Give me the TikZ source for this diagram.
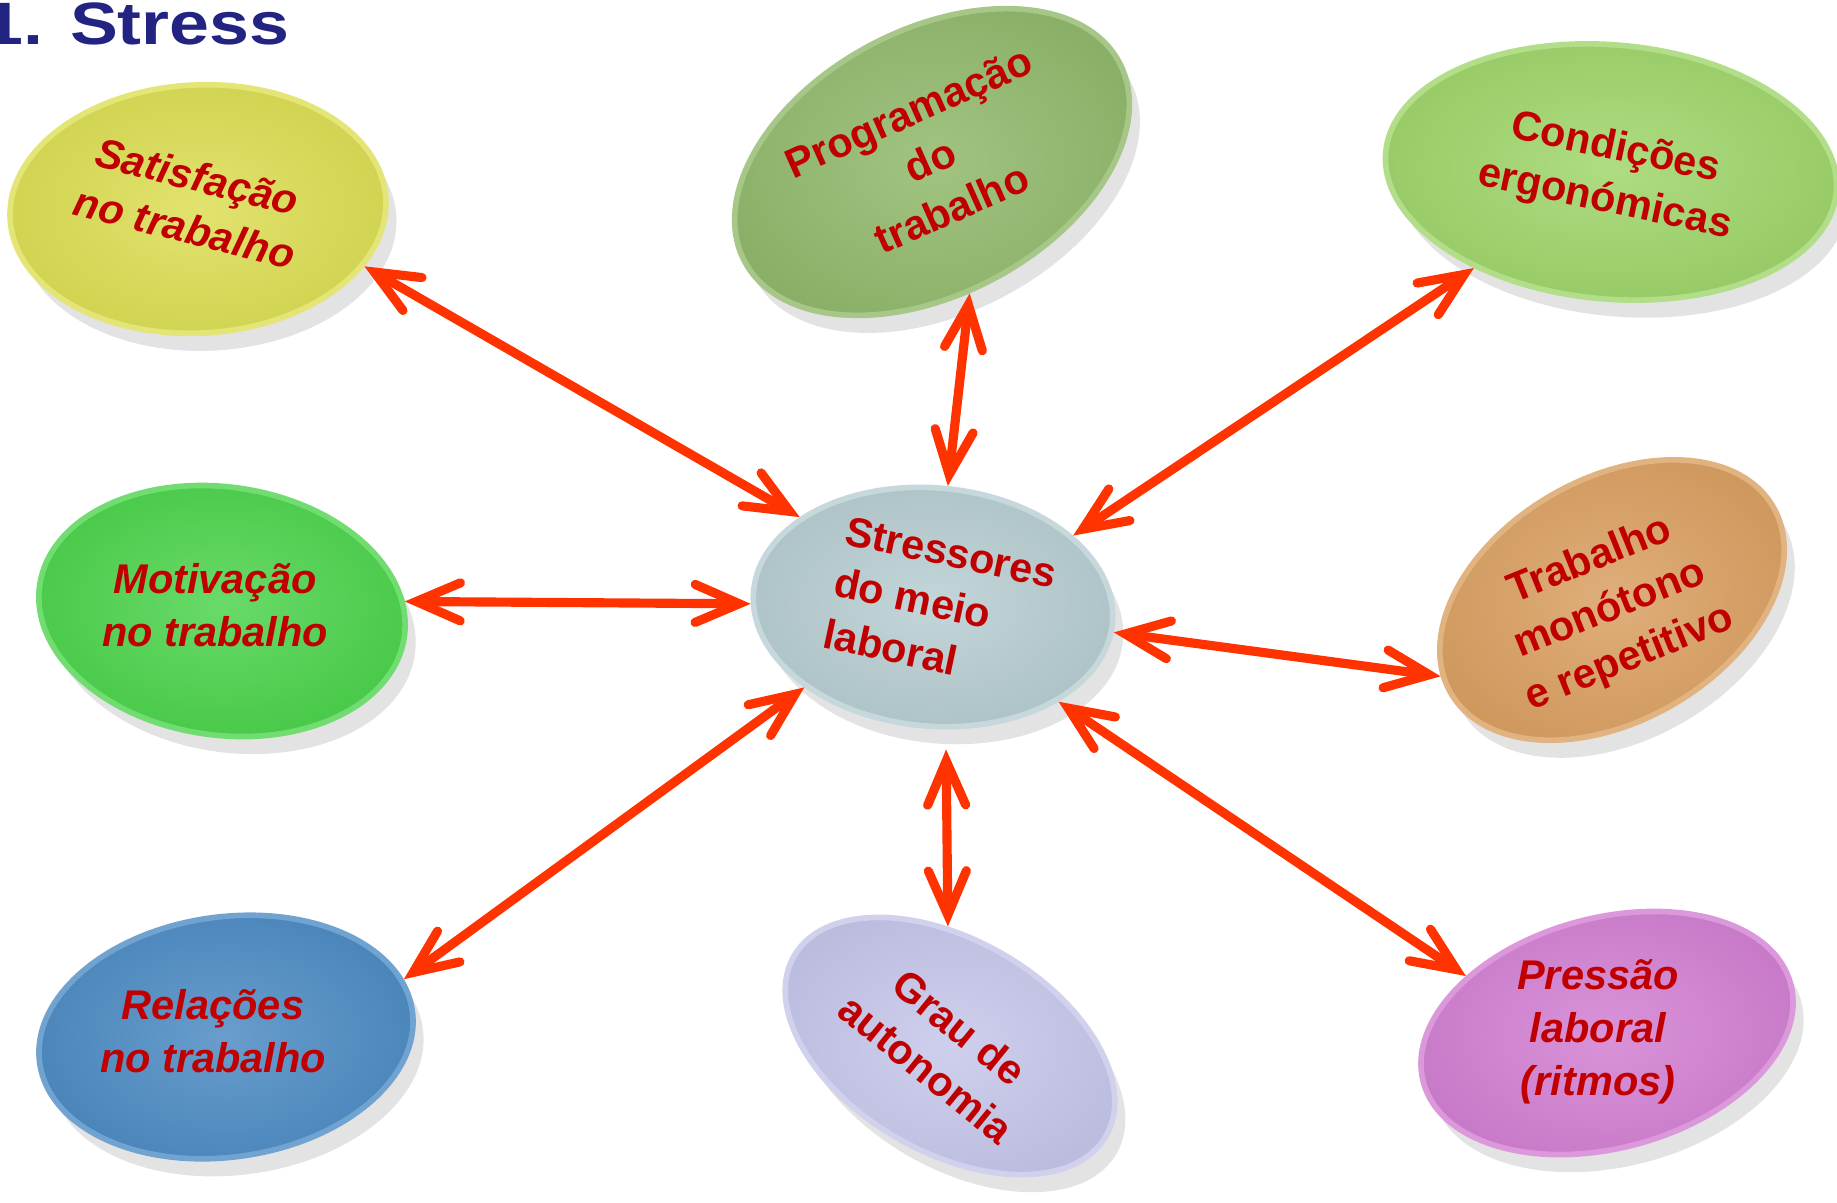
\documentclass[tikz,border=0pt]{standalone}
\usepackage{fontspec}
\setmainfont{Liberation Sans}
\usepackage{graphicx}
\usetikzlibrary{shapes.geometric, arrows.meta, shadows}

\definecolor{titleblue}{RGB}{35,35,130}
\definecolor{textred}{RGB}{192,0,0}
\definecolor{arrowred}{RGB}{255,51,0}
\definecolor{satcol}{RGB}{220,222,85}
\definecolor{progcol}{RGB}{145,185,108}
\definecolor{condcol}{RGB}{160,214,108}
\definecolor{motcol}{RGB}{78,212,78}
\definecolor{stscol}{RGB}{184,206,210}
\definecolor{trabcol}{RGB}{218,160,98}
\definecolor{relcol}{RGB}{78,140,196}
\definecolor{graucol}{RGB}{198,198,234}
\definecolor{prescol}{RGB}{210,128,210}

\tikzset{
  disc/.style={ellipse, inner sep=0pt, draw=#1!80!white, line width=1.6pt,
    inner color=#1!85!white, outer color=#1!95!black,
    drop shadow={shadow xshift=3pt, shadow yshift=-5pt, opacity=.22}},
  disctext/.style={text=textred, inner sep=0pt, align=center,
    font=\fontsize{11.8}{15}\selectfont\bfseries},
  link/.style={arrowred, line width=2.6pt,
    {Straight Barb[length=4.4mm, width=3.8mm, line cap=round, line join=miter]}-{Straight Barb[length=4.4mm, width=3.8mm, line cap=round, line join=miter]}}
}

\begin{document}
\begin{tikzpicture}[x=0.01cm, y=-0.01cm]
  \useasboundingbox (0,0) rectangle (1837,1202);

  % title
  \node[anchor=base west, inner sep=0pt, text=titleblue,
    font=\fontsize{17}{20}\selectfont\bfseries] (title) at (-17,44) {\scalebox{1.2}[1]{1. Stress}};

  % discs
  \node[disc=satcol, minimum width=3.76cm, minimum height=2.48cm, rotate=3] (sat) at (198,209) {};
  \node[disc=progcol, minimum width=4.24cm, minimum height=2.64cm, rotate=28] (prog) at (932,162) {};
  \node[disc=condcol, minimum width=4.52cm, minimum height=2.54cm, rotate=-5] (cond) at (1611,172) {};
  \node[disc=motcol, minimum width=3.68cm, minimum height=2.48cm, rotate=-8] (mot) at (222,611) {};
  \node[disc=stscol, minimum width=3.6cm, minimum height=2.38cm, rotate=-5] (sts) at (933,607) {};
  \node[disc=trabcol, minimum width=3.72cm, minimum height=2.42cm, rotate=30] (trab) at (1612,600) {};
  \node[disc=relcol, minimum width=3.76cm, minimum height=2.4cm, rotate=8] (rel) at (226,1037) {};
  \node[disc=graucol, minimum width=3.6cm, minimum height=2.12cm, rotate=-30] (grau) at (950,1046) {};
  \node[disc=prescol, minimum width=3.8cm, minimum height=2.3cm, rotate=15] (pres) at (1607,1033) {};

  % texts
  \node[disctext, rotate=-14] (sat-t) at (191,202) {\itshape Satisfação\\\itshape no trabalho};
  \node[disctext, rotate=24] (prog-t) at (930,160) {Programação\\do\\trabalho};
  \node[disctext, rotate=-12] (cond-t) at (1610,175) {Condições\\ergonómicas};
  \node[disctext] (mot-t) at (215,605) {\itshape Motivação\\\itshape no trabalho};
  \node[disctext, rotate=-12, align=left] (sts-t) at (940,604) {Stressores\\do meio\\laboral};
  \node[disctext, rotate=22] (trab-t) at (1610,610) {Trabalho\\monótono\\e repetitivo};
  \node[disctext] (rel-t) at (213,1031) {\itshape Relações\\\itshape no trabalho};
  \node[disctext, rotate=-39] (grau-t) at (943,1048) {Grau de\\autonomia};
  \node[disctext] (pres-t) at (1598,1032) {\itshape Pressão\\\itshape laboral\\\itshape (ritmos)};

  % connectors
  \draw[link] (sat.-22) -- (sts.151);
  \draw[link] (prog.-102) -- (sts.88);
  \draw[link] (cond.220) -- (sts.32);
  \draw[link] (mot.11) -- (sts.184);
  \draw[link] (sts.-3) -- (trab.174);
  \draw[link] (rel.10) -- (sts.217);
  \draw[link, shorten <=2mm] (sts.-79) -- (grau.121);
  \draw[link] (sts.-32) -- (pres.143);
\end{tikzpicture}
\end{document}
